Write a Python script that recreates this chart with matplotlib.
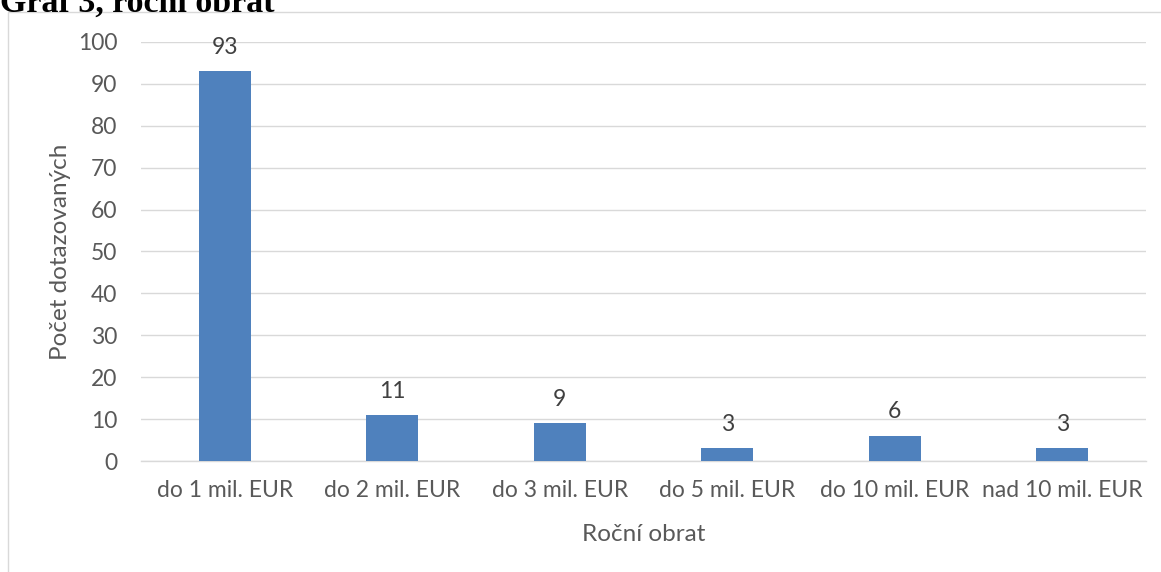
import matplotlib
matplotlib.use("Agg")
import matplotlib.pyplot as plt
from matplotlib.patches import Rectangle

categories = ["do 1 mil. EUR", "do 2 mil. EUR", "do 3 mil. EUR", "do 5 mil. EUR", "do 10 mil. EUR", "nad 10 mil. EUR"]
values = [93, 11, 9, 3, 6, 3]
yticks = [0, 10, 20, 30, 40, 50, 60, 70, 80, 90, 100]

W, H = 1161, 572
fig = plt.figure(figsize=(W/100, H/100), dpi=100)
plt.rcParams['font.family'] = ['Lato', 'DejaVu Sans']
gray = '#595959'

# chart border
fig.patches.append(Rectangle((8/W, -0.1), 1.2, (572-12)/H + 0.1, transform=fig.transFigure,
                             fill=False, edgecolor='#d9d9d9', linewidth=1.0))

# title, partly clipped at top
fig.text(0/W, 1 - 3/H, "Graf 3, roční obrat", family=['Liberation Serif'], fontweight='bold',
         fontsize=24.5, color='black', ha='left', va='center')

left, right = 141/W, 1146/W
bottom, top = 1 - 461/H, 1 - 42/H
ax = fig.add_axes([left, bottom, right-left, top-bottom])
x = list(range(len(categories)))
bars = ax.bar(x, values, width=0.31, color='#4F81BD', zorder=3)
ax.set_xlim(-0.5, len(categories)-0.5)
ax.set_ylim(0, 100)
ax.set_yticks(yticks)
ax.set_xticks(x)
ax.set_xticklabels(categories)
ax.yaxis.grid(True, color='#d9d9d9', linewidth=1.0, zorder=0)
ax.set_axisbelow(True)
for s in ['top', 'right', 'left']:
    ax.spines[s].set_visible(False)
ax.spines['bottom'].set_color('#d9d9d9')
ax.spines['bottom'].set_linewidth(1.0)
ax.tick_params(axis='both', length=0, colors=gray, labelsize=16.5)
ax.tick_params(axis='x', pad=14)
ax.tick_params(axis='y', pad=17)
for xi, v in zip(x, values):
    ax.text(xi, v + 3.2, str(v), ha='center', va='bottom', fontsize=16.5, color='#404040')
ax.set_xlabel("Roční obrat", fontsize=17.5, color=gray, labelpad=16)
ax.set_ylabel("Počet dotazovaných", fontsize=17.5, color=gray, labelpad=5)

fig.savefig("out.png", dpi=100)
